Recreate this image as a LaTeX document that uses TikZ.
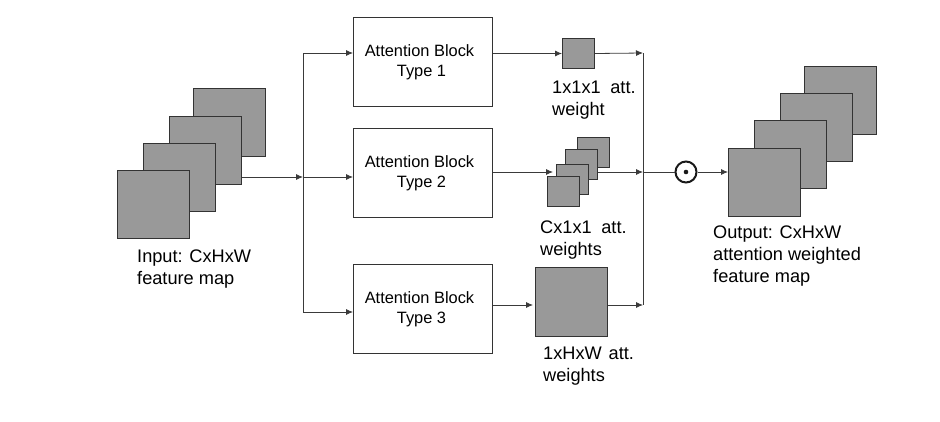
\documentclass[tikz,border=0pt]{standalone}
\usepackage{fontspec}
\setmainfont{Liberation Sans}
\usetikzlibrary{arrows.meta}
\definecolor{sqfill}{HTML}{999999}
\definecolor{sqline}{HTML}{333333}
\definecolor{ln}{HTML}{3A3A3A}
\begin{document}
\begin{tikzpicture}[x=1pt,y=-1pt,
  bigsq/.style={draw=sqline, fill=sqfill, line width=1pt, minimum width=72pt, minimum height=68pt, inner sep=0pt, anchor=north west},
  smallsq/.style={draw=sqline, fill=sqfill, line width=1pt, minimum width=32pt, minimum height=30pt, inner sep=0pt, anchor=north west},
  blk/.style={draw=sqline, line width=1pt, minimum width=139pt, minimum height=89pt, inner sep=0pt, anchor=north west, align=center, font=\fontsize{16.4}{20}\selectfont},
  lbl/.style={anchor=north west, inner sep=0pt, align=left, font=\fontsize{18.2}{22}\selectfont},
  arr/.style={draw=ln, line width=0.8pt, -{Latex[length=7pt,width=6pt]}},
  ln/.style={draw=ln, line width=0.8pt}
]
\useasboundingbox (0,0) rectangle (940,421);

% input stack
\node[bigsq] (i4) at (193,88) {};
\node[bigsq] (i3) at (169,116) {};
\node[bigsq] (i2) at (143,143) {};
\node[bigsq] (i1) at (117,170) {};
\node[lbl] (ilbl) at (137,250) {Input: CxHxW\\feature map};

% blocks
\node[blk] (b1) at (353,17) {Attention Block\kern7pt\\Type 1\kern3pt};
\node[blk] (b2) at (353,128) {Attention Block\kern7pt\\Type 2\kern3pt};
\node[blk] (b3) at (353,264) {Attention Block\kern7pt\\Type 3\kern3pt};

% splitter
\coordinate (j) at (303,177);
\coordinate (jt) at (303,53);
\coordinate (jb) at (303,312);
\draw[arr] (i3.east |- j) -- (j);
\draw[ln] (jt) -- (jb);
\draw[arr] (jt) -- (b1.west |- jt);
\draw[arr] (j) -- (b2.west |- j);
\draw[arr] (jb) -- (b3.west |- jb);

% type 1 weight
\node[smallsq] (s1) at (562,38) {};
\node[lbl] (l1) at (552,81) {1x1x1\hspace{0.25em} att.\\weight};
% type 2 weights
\node[smallsq] (c4) at (577,137) {};
\node[smallsq] (c3) at (565,149) {};
\node[smallsq] (c2) at (556,164) {};
\node[smallsq] (c1) at (547,176) {};
\node[lbl] (l2) at (540,221) {Cx1x1\hspace{0.25em} att.\\weights};
% type 3 weights
\node[bigsq, minimum height=69pt] (s3) at (535,267) {};
\node[lbl] (l3) at (543,347) {1xHxW\hspace{0.1em} att.\\weights};

% merge line
\coordinate (mt) at (643,53);
\coordinate (mm) at (643,172);
\coordinate (mb) at (643,305);
\draw[ln] (mt) -- (mb);

\draw[arr] (b1.east |- s1.west) -- (s1.west);
\draw[arr] (s1.east) -- (mt);
\coordinate (c2in) at (553,172);
\draw[arr] (b2.east |- c2in) -- (c2in);
\draw[arr] (c3.east |- mm) -- (mm);
\coordinate (s3in) at (533,305);
\draw[arr] (b3.east |- s3in) -- (s3in);
\draw[arr] (s3.east |- mb) -- (mb);

% product
\node[circle, draw=black!90, line width=2pt, minimum size=21pt, inner sep=0pt] (prod) at (686,172) {};
\fill[black!90] (prod.center) circle (2.3pt);
\draw[ln] (mm) -- (prod.west);

% output stack
\node[bigsq] (o4) at (804,66) {};
\node[bigsq] (o3) at (780,93) {};
\node[bigsq] (o2) at (754,120) {};
\node[bigsq] (o1) at (728,148) {};
\draw[arr] (prod.east) -- (o1.west |- prod.east);
\node[lbl] (olbl) at (713,226) {Output: CxHxW\\attention weighted\\feature map};
\end{tikzpicture}
\end{document}
